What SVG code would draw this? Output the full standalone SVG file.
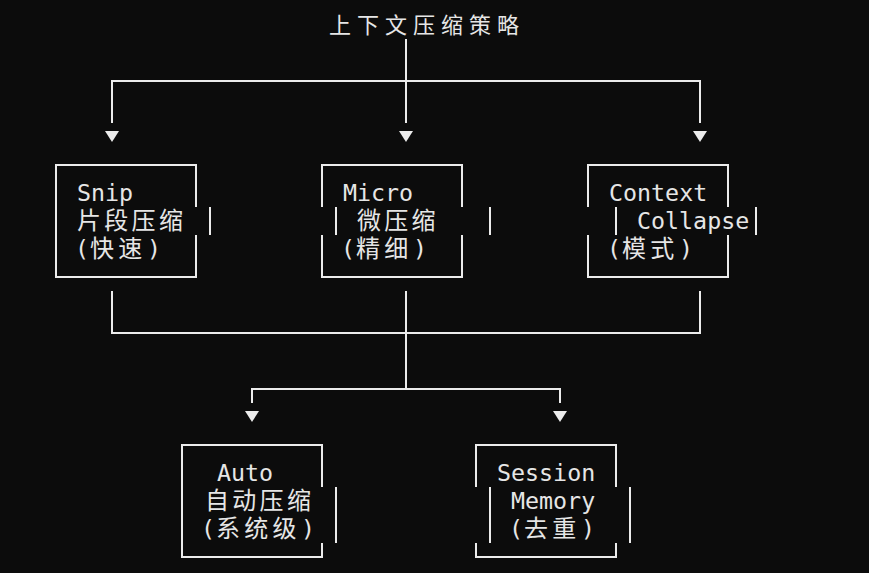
<svg xmlns="http://www.w3.org/2000/svg" width="869" height="573" viewBox="0 0 869 573">
<style>
.ln{fill:none;stroke:#ececec;stroke-width:2}
.ar{fill:#ececec}
text{fill:#e6e6e6}
.a{font-family:"DejaVu Sans Mono","Liberation Mono",monospace;font-size:23.3px}
.c{font-family:"Noto Sans CJK SC","Noto Sans",sans-serif;font-size:24px;letter-spacing:3.3px}
.cp{font-family:"Noto Sans CJK SC","Noto Sans",sans-serif;font-size:24px;letter-spacing:4.2px}
.t{font-family:"Noto Sans CJK SC","Noto Sans",sans-serif;font-size:22px;letter-spacing:6px}
</style>
<rect width="869" height="573" fill="#0c0c0c"/>
<g id="title"><text class="t" x="329" y="33">上下文压缩策略</text></g>
<g id="connectors">
<path class="ln" d="M406,39 V123 M112,123 V81 H700 V123"/>
<path class="ln" d="M112,291 V333 H700 V291 M406,291 V389 M252,403 V389 H560 V403"/>
<polygon class="ar" points="105,131 119,131 112,142"/>
<polygon class="ar" points="399,131 413,131 406,142"/>
<polygon class="ar" points="693,131 707,131 700,142"/>
<polygon class="ar" points="245,411 259,411 252,422"/>
<polygon class="ar" points="553,411 567,411 560,422"/>
</g>
<g id="snip">
<path class="ln" d="M196,207 V165 H56 V277 H196 V235 M210,207 V235"/>
<text class="a" x="77" y="201">Snip</text>
<text class="c" x="77" y="229">片段压缩</text>
<text y="257"><tspan class="a" x="75">(</tspan><tspan class="cp" x="90">快速</tspan><tspan class="a" x="147">)</tspan></text>
</g>
<g id="micro">
<path class="ln" d="M322,207 V165 H462 V207 M336,207 V235 M490,207 V235 M322,235 V277 H462 V235"/>
<text class="a" x="343" y="201">Micro</text>
<text class="c" x="357" y="229">微压缩</text>
<text y="257"><tspan class="a" x="341">(</tspan><tspan class="cp" x="356">精细</tspan><tspan class="a" x="413">)</tspan></text>
</g>
<g id="context-collapse">
<path class="ln" d="M588,207 V165 H728 V207 M616,207 V235 M756,207 V235 M588,235 V277 H728 V235"/>
<text class="a" x="609" y="201">Context</text>
<text class="a" x="637" y="229">Collapse</text>
<text y="257"><tspan class="a" x="607">(</tspan><tspan class="cp" x="622">模式</tspan><tspan class="a" x="679">)</tspan></text>
</g>
<g id="auto">
<path class="ln" d="M322,487 V445 H182 V557 H322 V543 M336,487 V543"/>
<text class="a" x="217" y="481">Auto</text>
<text class="c" x="205" y="509">自动压缩</text>
<text y="537"><tspan class="a" x="201">(</tspan><tspan class="cp" x="216">系统级</tspan><tspan class="a" x="301">)</tspan></text>
</g>
<g id="session-memory">
<path class="ln" d="M476,487 V445 H616 V487 M490,487 V543 M630,487 V543 M476,543 V557 H616 V543"/>
<text class="a" x="497" y="481">Session</text>
<text class="a" x="511" y="509">Memory</text>
<text y="537"><tspan class="a" x="509">(</tspan><tspan class="cp" x="524">去重</tspan><tspan class="a" x="581">)</tspan></text>
</g>
</svg>
